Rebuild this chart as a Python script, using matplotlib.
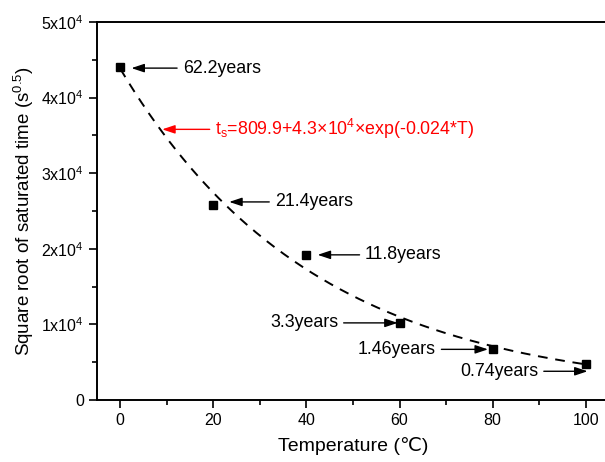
import matplotlib
matplotlib.use("Agg")
import matplotlib.pyplot as plt
import numpy as np

plt.rcParams["font.family"] = ["Liberation Sans", "DejaVu Sans"]
plt.rcParams["mathtext.fontset"] = "custom"
plt.rcParams["mathtext.rm"] = "Liberation Sans"
plt.rcParams["mathtext.it"] = "Liberation Sans:italic"

# data
temps = [0, 20, 40, 60, 80, 100]
sqrt_time = [44000, 25800, 19200, 10200, 6700, 4700]

# fitted curve: ts = a + b*exp(c*T)
fit_a, fit_b, fit_c = 809.9, 4.3e4, -0.024

# annotations: label, arrow tip (x, y), text position (x, y), alignment
labels = ["62.2years", "21.4years", "11.8years", "3.3years", "1.46years", "0.74years"]
arrow_tips = [(2.4, 43900), (23.4, 26200), (42.4, 19200), (59.6, 10200), (79.0, 6700), (100.4, 3800)]
text_pos = [(13.4, 43900), (33.2, 26200), (52.6, 19200), (46.8, 10200), (67.8, 6700), (89.8, 3800)]
text_ha = ["left", "left", "left", "right", "right", "right"]

eq_tip = (9.0, 35800)
eq_text_pos = (20.4, 35800)

fig = plt.figure(figsize=(6.05, 4.62), dpi=100, facecolor="white")
ax = fig.add_axes([97 / 605, 62 / 462, 512 / 605, 378 / 462])

T = np.linspace(0, 100, 200)
ax.plot(T, fit_a + fit_b * np.exp(fit_c * T), color="black", ls=(0, (5, 4)), lw=1.4)
ax.plot(temps, sqrt_time, ls="none", marker="s", ms=6, color="black")

arrow = dict(arrowstyle="-|>,head_length=0.6,head_width=0.2", color="black", lw=1.0, shrinkA=2, shrinkB=0)
for lab, tip, pos, ha in zip(labels, arrow_tips, text_pos, text_ha):
    ax.annotate(lab, xy=tip, xytext=pos, ha=ha, va="center", fontsize=12.8, arrowprops=arrow)

red_arrow = dict(arrow, color="red")
ax.annotate(r"t$_\mathregular{s}$=809.9+4.3×10$^\mathregular{4}$×exp(-0.024*T)",
            xy=eq_tip, xytext=eq_text_pos, ha="left", va="center", fontsize=12.8,
            color="red", arrowprops=red_arrow)

ax.set_xlim(-5, 105)
ax.set_ylim(0, 50000)
ax.set_xticks([0, 20, 40, 60, 80, 100])
ax.set_xticks([10, 30, 50, 70, 90], minor=True)
yt = [0, 10000, 20000, 30000, 40000, 50000]
ax.set_yticks(yt)
ax.set_yticklabels(["0"] + [r"$\mathregular{%dx10^4}$" % (v // 10000) for v in yt[1:]])
ax.set_yticks([5000, 15000, 25000, 35000, 45000], minor=True)
ax.tick_params(which="both", direction="out", labelsize=11.5, width=1.2)
ax.tick_params(which="major", length=6)
ax.tick_params(which="minor", length=3.5)
for s in ax.spines.values():
    s.set_linewidth(1.4)
ax.spines["right"].set_visible(False)

ax.set_xlabel("Temperature (℃)", fontsize=14, labelpad=6)
ax.set_ylabel(r"Square root of saturated time (s$^\mathregular{0.5}$)", fontsize=13.5)

fig.savefig("out.png", dpi=100, facecolor="white")
